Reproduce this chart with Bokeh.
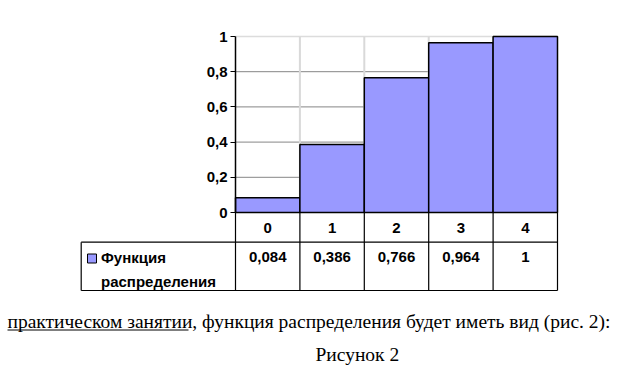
from bokeh.plotting import figure
from bokeh.models import LinearAxis, FixedTicker, CustomJSTickFormatter, Range1d, Grid
from bokeh.core.properties import value
from bokeh.embed import file_html
from bokeh.resources import INLINE

# ---- data ----
categories = ["0", "1", "2", "3", "4"]
values = [0.084, 0.386, 0.766, 0.964, 1.0]
series_name = "Функция распределения"
y_ticks = [0, 0.2, 0.4, 0.6, 0.8, 1.0]
body_line = "практическом занятии, функция распределения будет иметь вид (рис. 2):"
underlined = "практическом занятии"
caption = "Рисунок 2"

# ---- layout helpers (page pixels -> data coordinates) ----
W, H = 620, 370
OFF = 0
X0, X1 = 235, 557      # plot area left/right (page px)
Y0, Y1 = 212, 36       # value 0 / value 1 (page px)
col_w = (X1 - X0) / len(categories)
unit_h = Y0 - Y1


def px(p):
    return (p - X0) / col_w - 0.5


def py(p):
    return (Y0 - p) / unit_h


p = figure(width=W, height=H, output_backend="svg", toolbar_location=None,
           x_range=Range1d(px(OFF), px(OFF + W)),
           y_range=Range1d(py(OFF + H), py(OFF)),
           x_axis_location=None, y_axis_location=None,
           min_border=0, min_border_left=0, min_border_right=0,
           min_border_top=0, min_border_bottom=0)
p.outline_line_color = None
p.background_fill_color = "white"

xs = list(range(len(categories)))
left_edge, right_edge = -0.5, len(categories) - 0.5
bounds = [i - 0.5 for i in range(len(categories) + 1)]

# gridlines
inner = [t for t in y_ticks if 0 < t < 1]
p.segment(x0=[left_edge] * len(inner), x1=[right_edge] * len(inner), y0=inner, y1=inner,
          line_color="#868686", line_width=1)
p.segment(x0=[left_edge], x1=[right_edge], y0=[y_ticks[-1]], y1=[y_ticks[-1]],
          line_color="#dcdcdc", line_width=1.5)
vb = bounds[1:-1]
p.segment(x0=vb, x1=vb, y0=[0] * len(vb), y1=[y_ticks[-1]] * len(vb),
          line_color="#d9d9d9", line_width=2)

# bars
p.vbar(x=xs, top=values, bottom=0, width=1, fill_color="#9999FF",
       line_color="black", line_width=1.5)

# y axis
ax = LinearAxis(fixed_location=left_edge, bounds=(0, 1),
                ticker=FixedTicker(ticks=y_ticks, minor_ticks=[]),
                formatter=CustomJSTickFormatter(code="return tick.toFixed(1).replace('.', ',').replace(/,0$/, '');"))
ax.axis_line_color = "black"
ax.axis_line_width = 1.5
ax.major_tick_line_color = "black"
ax.major_tick_line_width = 1
ax.major_tick_out = 5
ax.major_tick_in = 0
ax.minor_tick_line_color = None
ax.major_label_standoff = 3
ax.major_label_text_font = "Liberation Sans"
ax.major_label_text_font_style = "bold"
ax.major_label_text_font_size = "15px"
ax.major_label_text_color = "black"
p.add_layout(ax, "left")

# remove any automatic grid renderers (gridlines are drawn above as segments)
for r in list(p.center):
    if isinstance(r, Grid):
        r.grid_line_color = None
        r.visible = False

# data table
row_mid = py(241.7)
tbl_bot = py(290)
leg_left = px(80.7)
p.segment(x0=[left_edge, leg_left, leg_left], x1=[right_edge] * 3,
          y0=[0, row_mid, tbl_bot], y1=[0, row_mid, tbl_bot],
          line_color="black", line_width=1.2)
p.segment(x0=bounds, x1=bounds, y0=[0] * len(bounds), y1=[tbl_bot] * len(bounds),
          line_color="black", line_width=1.2)
p.segment(x0=[leg_left], x1=[leg_left], y0=[row_mid], y1=[tbl_bot],
          line_color="black", line_width=1.2)

font = value("Liberation Sans")
p.text(x=xs, y=[py(227)] * len(xs), text=categories, text_font=font,
       text_font_style="bold", text_font_size="15px", text_align="center",
       text_baseline="middle", text_color="black")
val_labels = [("%g" % v).replace(".", ",") for v in values]
p.text(x=xs, y=[py(256.5)] * len(xs), text=val_labels, text_font=font,
       text_font_style="bold", text_font_size="15px", text_align="center",
       text_baseline="middle", text_color="black")

# legend key in table
p.scatter(x=[px(91.5)], y=[py(258)], marker="square", size=9,
          fill_color="#9999FF", line_color="black", line_width=1)
name_lines = series_name.split(" ")
p.text(x=[px(100.5)] * len(name_lines), y=[py(256.5), py(281)], text=name_lines,
       text_font=font, text_font_style="bold", text_font_size="15px",
       text_align="left", text_baseline="middle", text_color="black")

# document text below
serif = value("Liberation Serif")
p.text(x=[px(7)], y=[py(321)], text=[body_line], text_font=serif,
       text_font_size="19.5px", text_align="left", text_baseline="middle",
       text_color="black")
p.segment(x0=[px(7)], x1=[px(188)], y0=[py(329.5)], y1=[py(329.5)],
          line_color="black", line_width=1)
p.text(x=[px(315)], y=[py(354)], text=[caption], text_font=serif,
       text_font_size="19.5px", text_align="left", text_baseline="middle",
       text_color="black")

open("out.html", "w").write(file_html(p, INLINE))
